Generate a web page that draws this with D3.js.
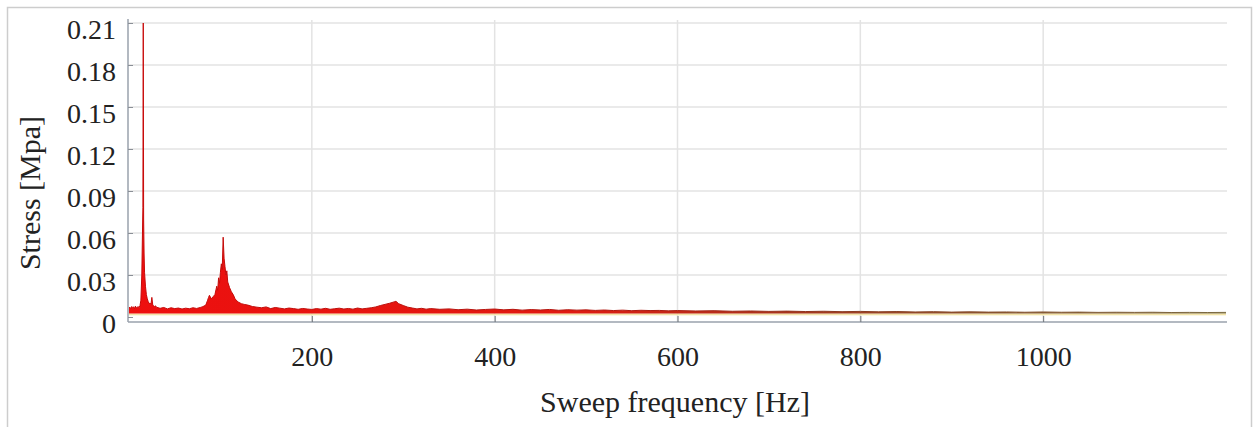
<!DOCTYPE html>
<html>
<head>
<meta charset="utf-8">
<script src="https://cdn.jsdelivr.net/npm/d3@7/dist/d3.min.js"></script>
<style>
  body { margin: 0; background: #fff; }
  text { font-family: "Liberation Serif", "Times New Roman", serif; fill: #222; }
</style>
</head>
<body>
<div id="chart"></div>
<script>
// sweep frequency [Hz] and stress envelope [MPa]
var freq = [0, 1, 2, 3, 4, 5, 6, 7, 8, 9, 10, 11, 12, 13, 14, 14.6, 15.2, 15.6, 16, 16.5, 17, 18, 19, 20, 21, 22, 23, 24, 25, 26, 27, 28, 29,
  30, 34, 38, 42, 46, 50, 54, 58, 62, 66, 70, 74, 78,
  80, 82, 84, 86, 87, 88, 90, 92, 94, 96, 97, 98, 99, 100, 101, 102, 103, 104, 105, 106, 107, 108, 110, 112, 114, 116, 118, 120, 123, 126, 130,
  135, 140, 145, 150, 155, 160, 165, 170, 175, 180, 185, 190, 195, 200, 205, 210, 215, 220, 225, 230, 235, 240, 245, 250, 255, 260,
  265, 270, 275, 280, 285, 290, 292, 295, 300, 305, 310, 315, 320, 325, 330,
  340, 350, 360, 370, 380, 390, 400, 410, 420, 430, 440, 450, 460, 470, 480, 490, 500, 510, 520, 530, 540, 550, 560, 570, 580, 590, 600,
  620, 640, 660, 680, 700, 720, 740, 760, 780, 800, 820, 840, 860, 880, 900, 920, 940, 960, 980, 1000, 1020, 1040, 1060, 1080, 1100,
  1120, 1140, 1160, 1180, 1200];
var stress = [.0065, .007, .006, .0075, .0068, .0072, .006, .0078, .0065, .007, .0074, .0068, .008, .012, .03, .055, .078, .21, .07, .045, .032, .022, .016, .013, .011, .0095, .01, .009, .014, .0085, .008, .0075, .008,
  .007, .0062, .0068, .0058, .0066, .006, .0064, .0057, .0063, .0059, .0066, .0061, .0068,
  .0072, .0078, .0085, .012, .014, .0155, .013, .0145, .016, .022, .019, .028, .024, .032, .038, .034, .057, .042, .036, .03, .033, .025, .021, .018, .016, .013, .0115, .0105, .0095, .009, .0085,
  .0075, .007, .0066, .0072, .006, .0068, .0063, .0058, .0064, .006, .0055, .0061, .0057, .0054, .006, .0056, .0062, .0055, .0059, .0063, .0057, .0061, .0056, .0064, .0058, .0062,
  .0066, .0072, .0082, .009, .0098, .0108, .0112, .0095, .0082, .007, .0064, .0058, .0062, .0056, .006,
  .0055, .0058, .0052, .0056, .005, .0054, .0057, .0051, .0055, .0049, .0053, .005, .0054, .0048, .0052, .0049, .0051, .0047, .005, .0046, .0049, .0045, .0048, .0046, .0047, .0044, .0046,
  .0043, .0045, .0041, .0043, .004, .0042, .0039, .0041, .0038, .004, .0037, .0039, .0036, .0038, .0035, .0037, .0035, .0036, .0034, .0036, .0034, .0035, .0033, .0034, .0033,
  .0034, .0032, .0033, .0032, .0033];
var baseLevel = 0.0025;
var floorLevel = 0.0012;

var xTicks = [200, 400, 600, 800, 1000];
var yTicks = [0, 0.03, 0.06, 0.09, 0.12, 0.15, 0.18, 0.21];
var xTitle = "Sweep frequency [Hz]";
var yTitle = "Stress [Mpa]";

var W = 1257, H = 427;
var svg = d3.select("#chart").append("svg").attr("width", W).attr("height", H);

// outer frame
svg.append("rect").attr("x", 7.5).attr("y", 7.5).attr("width", 1244).attr("height", 440)
  .attr("fill", "none").attr("stroke", "#cdcdcd").attr("stroke-width", 1.5);

var x = d3.scaleLinear().domain([0, 1200]).range([129, 1226]);
var y = d3.scaleLinear().domain([0, 0.21]).range([317, 23]);
var plotTop = 19, plotBottom = 322, plotLeft = 128, plotRight = 1227;

// grid
var grid = svg.append("g").attr("stroke", "#e3e3e3").attr("stroke-width", 1.5);
grid.selectAll(".hg").data(yTicks.filter(function(d) { return d > 0; })).enter().append("line")
  .attr("x1", plotLeft).attr("x2", plotRight)
  .attr("y1", function(d) { return y(d); }).attr("y2", function(d) { return y(d); });
grid.selectAll(".vg").data(xTicks).enter().append("line")
  .attr("y1", plotTop + 1).attr("y2", plotBottom)
  .attr("x1", function(d) { return x(d); }).attr("x2", function(d) { return x(d); });

// colour drifts from red to brown/olive along the sweep
var defs = svg.append("defs");
var grad = defs.append("linearGradient").attr("id", "sweep").attr("gradientUnits", "userSpaceOnUse")
  .attr("x1", x(0)).attr("x2", x(1200)).attr("y1", 0).attr("y2", 0);
grad.append("stop").attr("offset", "0%").attr("stop-color", "#ee0f0f");
grad.append("stop").attr("offset", "40%").attr("stop-color", "#e01a10");
grad.append("stop").attr("offset", "60%").attr("stop-color", "#a8341c");
grad.append("stop").attr("offset", "80%").attr("stop-color", "#8c5a30");
grad.append("stop").attr("offset", "100%").attr("stop-color", "#8a7a48");

var edge = defs.append("linearGradient").attr("id", "edge").attr("gradientUnits", "userSpaceOnUse")
  .attr("x1", x(0)).attr("x2", x(1200)).attr("y1", 0).attr("y2", 0);
edge.append("stop").attr("offset", "0%").attr("stop-color", "#c80808");
edge.append("stop").attr("offset", "45%").attr("stop-color", "#b01810");
edge.append("stop").attr("offset", "65%").attr("stop-color", "#8a3a20");
edge.append("stop").attr("offset", "100%").attr("stop-color", "#7a6a40");

// pale floor band under the trace
svg.append("rect").attr("x", x(0)).attr("width", x(1200) - x(0))
  .attr("y", y(baseLevel)).attr("height", y(floorLevel) - y(baseLevel))
  .attr("fill", "#f2e4a8");

var pts = freq.map(function(f, i) { return [f, stress[i]]; });
var area = d3.area().x(function(d) { return x(d[0]); })
  .y0(y(baseLevel)).y1(function(d) { return y(d[1]); });
svg.append("path").datum(pts).attr("d", area).attr("fill", "url(#sweep)");
var line = d3.line().x(function(d) { return x(d[0]); }).y(function(d) { return y(d[1]); });
svg.append("path").datum(pts).attr("d", line).attr("fill", "none")
  .attr("stroke", "url(#edge)").attr("stroke-width", 1);

// axes
var axisColor = "#9aa2ac";
svg.append("line").attr("x1", plotLeft).attr("x2", plotLeft).attr("y1", plotTop).attr("y2", plotBottom)
  .attr("stroke", axisColor).attr("stroke-width", 1.5);
svg.append("line").attr("x1", plotLeft).attr("x2", plotRight).attr("y1", plotBottom).attr("y2", plotBottom)
  .attr("stroke", axisColor).attr("stroke-width", 1.5);

var yAxis = d3.axisLeft(y).tickValues(yTicks).tickSize(-5).tickPadding(12)
  .tickFormat(function(d) { return d === 0 ? "0" : d3.format(".2f")(d); });
var ya = svg.append("g").attr("transform", "translate(" + plotLeft + ",0)").call(yAxis);
ya.select(".domain").remove();
ya.selectAll(".tick line").attr("stroke", "#8a8f96");
ya.selectAll(".tick text").attr("font-size", 28).attr("dy", "0.55em")
  .attr("font-family", "Liberation Serif").attr("fill", "#222");

var xAxis = d3.axisBottom(x).tickValues(xTicks).tickSize(-6).tickPadding(24)
  .tickFormat(d3.format("d"));
var xa = svg.append("g").attr("transform", "translate(0," + plotBottom + ")").call(xAxis);
xa.select(".domain").remove();
xa.selectAll(".tick line").attr("stroke", "#6f747a");
xa.selectAll(".tick text").attr("font-size", 28)
  .attr("font-family", "Liberation Serif").attr("fill", "#222");

svg.append("text").attr("x", 675).attr("y", 412).attr("text-anchor", "middle")
  .attr("font-size", 30).text(xTitle);
svg.append("text").attr("transform", "translate(40,193) rotate(-90)").attr("text-anchor", "middle")
  .attr("font-size", 30).text(yTitle);
</script>
</body>
</html>
